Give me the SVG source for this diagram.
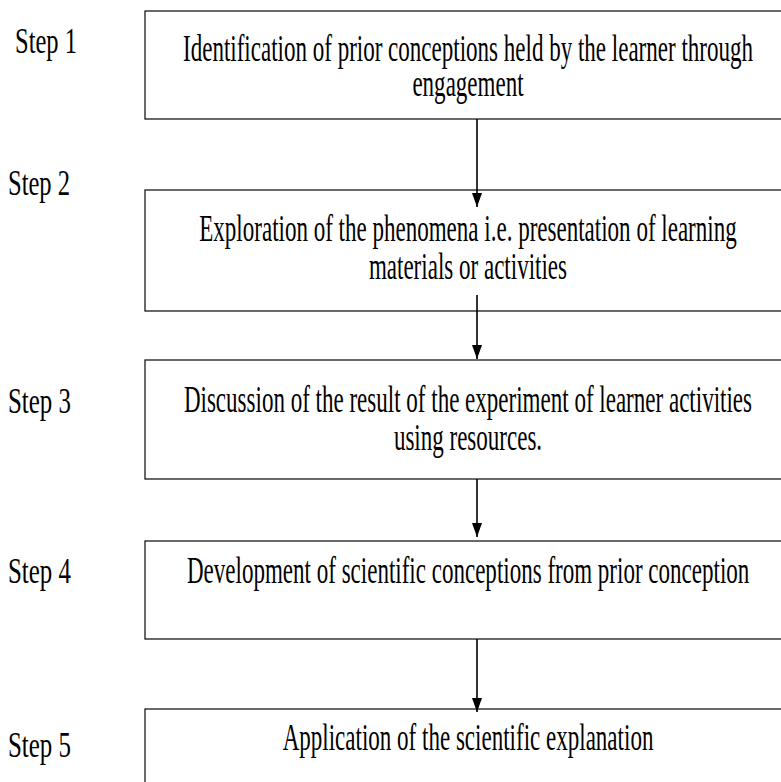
<svg xmlns="http://www.w3.org/2000/svg" width="781" height="782" viewBox="0 0 781 782">
<style>
.box{fill:#fff;stroke:#1a1a1a;stroke-width:1.3}
.c{stroke:#000;stroke-width:1.6;fill:none}
</style>
<defs>
<marker id="ah" markerUnits="userSpaceOnUse" viewBox="0 0 14 10" refX="14" refY="5" markerWidth="14" markerHeight="10" orient="auto">
<path d="M0,0 L14,5 L0,10 z" fill="#000"/>
</marker>
</defs>
<rect width="781" height="782" fill="#fff"/>
<g id="labels">
<text font-family="Liberation Serif" font-size="36" x="15" y="53" textLength="62" lengthAdjust="spacingAndGlyphs">Step 1</text>
<text font-family="Liberation Serif" font-size="36" x="8" y="195" textLength="62" lengthAdjust="spacingAndGlyphs">Step 2</text>
<text font-family="Liberation Serif" font-size="36" x="8" y="413" textLength="63" lengthAdjust="spacingAndGlyphs">Step 3</text>
<text font-family="Liberation Serif" font-size="36" x="8" y="583" textLength="63" lengthAdjust="spacingAndGlyphs">Step 4</text>
<text font-family="Liberation Serif" font-size="36" x="8" y="757" textLength="63" lengthAdjust="spacingAndGlyphs">Step 5</text>
</g>
<g id="step1">
<rect class="box" x="145" y="11" width="645" height="108"/>
<text font-family="Liberation Serif" font-size="37" x="183" y="61" textLength="570" lengthAdjust="spacingAndGlyphs">Identification of prior conceptions held by the learner through</text>
<text font-family="Liberation Serif" font-size="37" x="412.4" y="96" textLength="111.2" lengthAdjust="spacingAndGlyphs">engagement</text>
</g>
<g id="step2">
<rect class="box" x="145" y="190" width="645" height="121"/>
<text font-family="Liberation Serif" font-size="37" x="199.3" y="241" textLength="537.4" lengthAdjust="spacingAndGlyphs">Exploration of the phenomena i.e. presentation of learning</text>
<text font-family="Liberation Serif" font-size="37" x="368.9" y="279" textLength="198.1" lengthAdjust="spacingAndGlyphs">materials or activities</text>
</g>
<g id="step3">
<rect class="box" x="145" y="360" width="645" height="119"/>
<text font-family="Liberation Serif" font-size="37" x="183.9" y="412" textLength="568.1" lengthAdjust="spacingAndGlyphs">Discussion of the result of the experiment of learner activities</text>
<text font-family="Liberation Serif" font-size="37" x="393.9" y="450" textLength="148.2" lengthAdjust="spacingAndGlyphs">using resources.</text>
</g>
<g id="step4">
<rect class="box" x="145" y="541" width="645" height="98"/>
<text font-family="Liberation Serif" font-size="37" x="187" y="583" textLength="562.3" lengthAdjust="spacingAndGlyphs">Development of scientific conceptions from prior conception</text>
</g>
<g id="step5">
<rect class="box" x="145" y="709" width="645" height="100"/>
<text font-family="Liberation Serif" font-size="37" x="282.7" y="750" textLength="370.7" lengthAdjust="spacingAndGlyphs">Application of the scientific explanation</text>
</g>
<g id="connectors">
<line class="c" x1="477" y1="119" x2="477" y2="207" marker-end="url(#ah)"/>
<line class="c" x1="477" y1="295" x2="477" y2="359" marker-end="url(#ah)"/>
<line class="c" x1="477" y1="479" x2="477" y2="537" marker-end="url(#ah)"/>
<line class="c" x1="477" y1="639" x2="477" y2="712" marker-end="url(#ah)"/>
</g>
</svg>
